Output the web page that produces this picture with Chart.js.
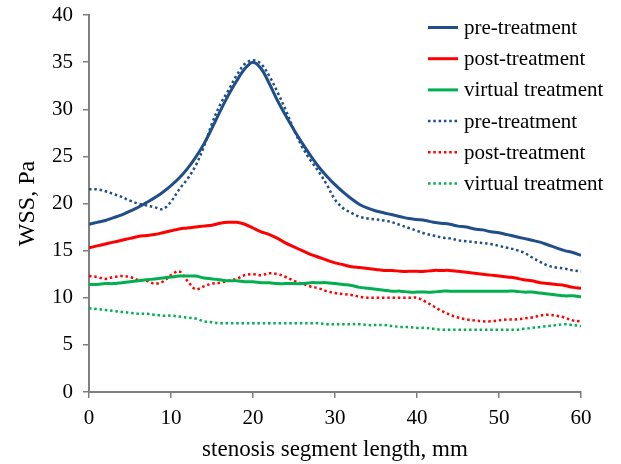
<!DOCTYPE html>
<html>
<head>
<meta charset="utf-8">
<script src="https://cdn.jsdelivr.net/npm/chart.js@4.4.1/dist/chart.umd.min.js"></script>
<style>
  html, body { margin: 0; padding: 0; background: #ffffff; }
  #wrap { width: 621px; height: 464px; position: relative; }
</style>
</head>
<body>
<div id="wrap"><canvas id="c" width="621" height="464"></canvas></div>
<script>
// Positions along the stenosis segment (mm)
const lengthMm = [0,1,2,3,4,5,6,7,8,9,10,11,12,13,14,15,16,17,18,19,20,21,22,23,24,25,26,27,28,29,30,31,32,33,34,35,36,37,38,39,40,41,42,43,44,45,46,47,48,49,50,51,52,53,54,55,56,57,58,59,60];

// Series (WSS, Pa) – solid lines
const preSolid = [17.8,18.0,18.2,18.5,18.8,19.2,19.6,20.1,20.6,21.2,21.9,22.7,23.7,24.9,26.3,28.0,29.8,31.5,33.0,34.3,35.0,34.3,32.7,30.9,29.3,27.8,26.4,25.1,23.9,22.9,22.0,21.2,20.5,19.9,19.5,19.2,19.0,18.8,18.6,18.4,18.3,18.2,18.0,17.9,17.8,17.6,17.5,17.3,17.2,17.0,16.9,16.7,16.5,16.3,16.1,15.9,15.6,15.3,15.0,14.8,14.5];
const postSolid = [15.3,15.5,15.7,15.9,16.1,16.3,16.5,16.6,16.7,16.9,17.1,17.3,17.4,17.5,17.6,17.7,17.9,18.0,18.0,17.8,17.4,17.0,16.7,16.3,15.8,15.4,15.0,14.6,14.3,14.0,13.7,13.5,13.3,13.2,13.1,13.0,12.9,12.9,12.8,12.8,12.8,12.8,12.9,12.9,12.9,12.8,12.7,12.6,12.5,12.4,12.3,12.2,12.1,11.9,11.8,11.6,11.5,11.4,11.3,11.1,11.0];
const virtualSolid = [11.4,11.4,11.5,11.5,11.6,11.7,11.8,11.9,12.0,12.1,12.2,12.3,12.3,12.3,12.1,12.0,11.9,11.8,11.8,11.7,11.7,11.6,11.6,11.5,11.5,11.5,11.5,11.6,11.6,11.6,11.5,11.4,11.3,11.1,11.0,10.9,10.8,10.7,10.7,10.6,10.6,10.6,10.6,10.7,10.7,10.7,10.7,10.7,10.7,10.7,10.7,10.7,10.7,10.6,10.6,10.5,10.4,10.3,10.2,10.2,10.1];

// Series (WSS, Pa) – dotted lines
const preDotted = [21.5,21.5,21.3,21.0,20.7,20.3,20.0,19.8,19.6,19.4,20.2,21.5,22.6,24.0,26.0,28.5,30.5,32.0,33.6,34.8,35.2,34.8,33.5,31.8,29.9,27.8,26.0,24.6,23.4,22.0,20.4,19.5,19.0,18.6,18.4,18.3,18.2,18.0,17.7,17.4,17.1,16.8,16.6,16.4,16.3,16.1,16.0,15.9,15.8,15.7,15.5,15.3,15.1,14.8,14.3,13.8,13.4,13.2,13.1,12.9,12.8];
const postDotted = [12.3,12.2,12.0,12.2,12.3,12.2,11.9,11.8,11.5,11.7,12.4,12.8,11.8,10.9,11.2,11.5,11.6,11.8,12.0,12.4,12.5,12.4,12.6,12.5,12.2,11.8,11.5,11.2,11.0,10.7,10.5,10.4,10.3,10.1,10.0,10.0,10.0,10.0,10.0,10.0,10.0,9.6,9.1,8.6,8.2,7.9,7.7,7.6,7.5,7.5,7.6,7.7,7.7,7.8,7.9,8.1,8.2,8.1,7.9,7.6,7.5];
const virtualDotted = [8.9,8.8,8.7,8.6,8.5,8.4,8.3,8.3,8.2,8.1,8.1,8.0,7.9,7.8,7.5,7.4,7.3,7.3,7.3,7.3,7.3,7.3,7.3,7.3,7.3,7.3,7.3,7.3,7.3,7.2,7.2,7.2,7.2,7.2,7.1,7.1,7.1,7.0,6.9,6.9,6.8,6.8,6.7,6.6,6.6,6.6,6.6,6.6,6.6,6.6,6.6,6.6,6.6,6.7,6.8,6.9,7.0,7.1,7.2,7.1,7.0];

const seriesLabels = ['pre-treatment','post-treatment','virtual treatment','pre-treatment','post-treatment','virtual treatment'];
const xTicks = [0,10,20,30,40,50,60];
const yTicks = [0,5,10,15,20,25,30,35,40];

const BLUE = '#1F4E89', RED = '#FF0000', GREEN = '#00B050';
const FONT = '"Liberation Serif", "Times New Roman", serif';

function pts(arr) { return lengthMm.map((x, i) => ({ x: x, y: arr[i] })); }
function solid(label, data, color) {
  return { label, data: pts(data), borderColor: color, backgroundColor: color, borderWidth: 3, pointRadius: 0, tension: 0.35, fill: false };
}
function dotted(label, data, color) {
  return { label, data: pts(data), borderColor: color, backgroundColor: color, borderWidth: 2.5, borderDash: [2.5, 2.8], borderCapStyle: 'butt', pointRadius: 0, tension: 0.35, fill: false };
}

const legendPlugin = {
  id: 'insideLegend',
  afterDraw(chart) {
    const ctx = chart.ctx;
    ctx.save();
    ctx.font = '21px ' + FONT;
    ctx.textBaseline = 'middle';
    ctx.textAlign = 'left';
    chart.data.datasets.forEach((ds, i) => {
      const y = 27.5 + i * 31.2;
      ctx.strokeStyle = ds.borderColor;
      ctx.lineWidth = ds.borderWidth;
      ctx.lineCap = 'butt';
      ctx.setLineDash(ds.borderDash || []);
      ctx.beginPath();
      ctx.moveTo(428, y);
      ctx.lineTo(458, y);
      ctx.stroke();
      ctx.setLineDash([]);
      ctx.fillStyle = '#000000';
      ctx.fillText(ds.label, 464, y + 1);
    });
    ctx.restore();
  }
};

new Chart(document.getElementById('c'), {
  type: 'line',
  data: {
    datasets: [
      solid(seriesLabels[0], preSolid, BLUE),
      solid(seriesLabels[1], postSolid, RED),
      solid(seriesLabels[2], virtualSolid, GREEN),
      dotted(seriesLabels[3], preDotted, BLUE),
      dotted(seriesLabels[4], postDotted, RED),
      dotted(seriesLabels[5], virtualDotted, GREEN)
    ]
  },
  plugins: [legendPlugin],
  options: {
    responsive: false,
    animation: false,
    devicePixelRatio: 1,
    layout: { padding: { left: 0, right: 40, top: 15, bottom: 0 } },
    plugins: { legend: { display: false }, tooltip: { enabled: false } },
    scales: {
      x: {
        type: 'linear',
        min: 0, max: 60,
        afterBuildTicks: s => { s.ticks = xTicks.map(v => ({ value: v })); },
        afterFit: s => { s.height = 72; s.paddingLeft = 0; s.paddingRight = 0; },
        grid: { drawOnChartArea: false, drawTicks: true, tickLength: 6, color: '#7F7F7F', lineWidth: 1.5 },
        border: { color: '#7F7F7F', width: 2 },
        ticks: { color: '#000000', font: { family: FONT, size: 21 }, padding: 8, maxRotation: 0, autoSkip: false },
        title: { display: true, text: 'stenosis segment length, mm', color: '#000000', font: { family: FONT, size: 23 }, padding: { top: 0, bottom: 0 } }
      },
      y: {
        type: 'linear',
        min: 0, max: 40,
        afterBuildTicks: s => { s.ticks = yTicks.map(v => ({ value: v })); },
        afterFit: s => { s.width = 89; s.paddingTop = 0; s.paddingBottom = 0; },
        grid: { drawOnChartArea: false, drawTicks: true, tickLength: 6, color: '#7F7F7F', lineWidth: 1.5 },
        border: { color: '#7F7F7F', width: 2 },
        ticks: { color: '#000000', font: { family: FONT, size: 21 }, padding: 10, autoSkip: false },
        title: { display: true, text: 'WSS, Pa', color: '#000000', font: { family: FONT, size: 24 }, padding: { top: 13, bottom: 0 } }
      }
    }
  }
});
</script>
</body>
</html>
